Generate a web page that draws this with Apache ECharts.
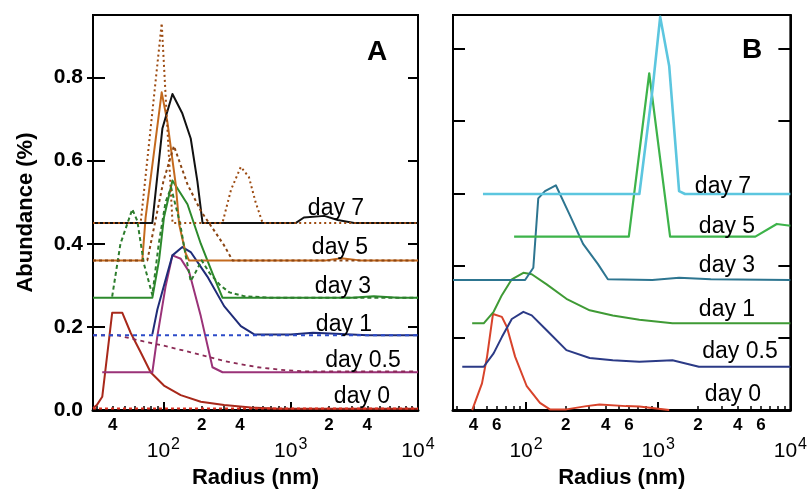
<!DOCTYPE html>
<html><head><meta charset="utf-8">
<script src="https://cdn.jsdelivr.net/npm/echarts@6/dist/echarts.min.js"></script>
<style>html,body{margin:0;padding:0;background:#fff}#c{width:810px;height:494px}</style>
</head><body><div id="c"></div>
<script>
const FONT = '"Liberation Sans", Arial, Helvetica, sans-serif';
const xMin = 28, xMax = 10000;
const yMaxA = 0.95, yMaxB = 5.466;
const yTicksA = [0, 0.2, 0.4, 0.6, 0.8];
const yTicksB = [1, 2, 3, 4, 5];
const minorTicks = [30,40,50,60,70,80,90,200,300,400,500,600,700,800,900,2000,3000,4000,5000,6000,7000,8000,9000];
const majorTicks = [100, 1000, 10000];
const minorLabelsA = [40, 200, 400, 2000, 4000];
const minorLabelsB = [40, 60, 200, 400, 600, 2000, 4000, 6000];
const dayNames = ['day 7', 'day 5', 'day 3', 'day 1', 'day 0.5', 'day 0'];

// Panel A (radius nm, abundance %)
const a7  = [[28,0.45],[81.9,0.45],[98.2,0.677],[117.8,0.76],[141,0.713],[164,0.653],[185,0.55],[203,0.45],[1100,0.45],[1270,0.463],[1840,0.467],[2340,0.457],[3150,0.45],[10000,0.45]];
const a7d = [[28,0.45],[66.3,0.45],[97,0.93],[118,0.45],[291,0.45],[340,0.53],[406,0.585],[470,0.56],[530,0.5],[602,0.45],[10000,0.45]];
const a5  = [[28,0.36],[68.3,0.36],[72.5,0.463],[97,0.764],[107.5,0.693],[125,0.543],[133,0.447],[141,0.412],[150,0.376],[159,0.36],[1900,0.36],[2500,0.365],[3500,0.36],[10000,0.36]];
const a5d = [[28,0.36],[74.8,0.36],[100,0.55],[121,0.635],[154.6,0.543],[196.7,0.479],[250,0.432],[300,0.396],[349,0.36],[10000,0.36]];
const a3  = [[28,0.27],[81.9,0.27],[92.4,0.36],[101,0.463],[117.8,0.552],[154.6,0.495],[196.7,0.40],[243,0.329],[291.6,0.27],[3000,0.27],[4500,0.274],[7000,0.27],[10000,0.27]];
const a3d = [[39.6,0.273],[46,0.40],[57,0.483],[62.4,0.455],[70.3,0.352],[81.9,0.277],[92,0.40],[104,0.50],[115,0.535],[135,0.45],[150,0.37],[164,0.31],[178,0.33],[200,0.36],[230,0.33],[280,0.30],[330,0.283],[430,0.274],[700,0.27],[10000,0.27]];
const a1  = [[81.9,0.182],[89.7,0.242],[107.5,0.329],[117.8,0.372],[141,0.392],[164,0.38],[221.6,0.321],[300,0.25],[406,0.202],[517,0.182],[1000,0.182],[1500,0.186],[2500,0.183],[4000,0.18],[10000,0.18]];
const a1d = [[28,0.18],[10000,0.18]];
const a05 = [[33.1,0.091],[81.9,0.091],[89.7,0.178],[104,0.297],[117.8,0.372],[137,0.364],[159,0.333],[196.7,0.226],[243,0.103],[291.6,0.091],[10000,0.091]];
const a05d= [[28,0.18],[43.4,0.18],[70,0.165],[100,0.155],[164,0.139],[300,0.118],[550,0.103],[900,0.096],[1280,0.093],[10000,0.093]];
const a0  = [[28,0.005],[30,0.012],[33.1,0.032],[39.6,0.234],[47.6,0.234],[55.3,0.186],[66.3,0.139],[79.4,0.091],[101,0.059],[136.8,0.036],[196.7,0.02],[300,0.012],[487,0.006],[800,0.003],[10000,0.003]];
const a0d = [[28,0.004],[10000,0.004]];

// Panel B (radius nm, arbitrary stacked units)
const b7  = [[47.2,2.99],[720,2.99],[906,4.44],[1035,5.44],[1211,4.76],[1439,3.03],[1596,2.99],[10000,2.99]];
const b5  = [[81.2,2.40],[599,2.40],[855,4.66],[1230,2.40],[5430,2.40],[7890,2.575],[10000,2.55]];
const b3  = [[28,1.80],[98.3,1.80],[113.5,1.97],[123.7,2.93],[139,3.03],[168,3.11],[214,2.70],[270,2.30],[350,2.02],[416,1.81],[902,1.80],[1439,1.83],[2500,1.81],[10000,1.80]];
const b1  = [[39.1,1.20],[47.8,1.20],[56.8,1.36],[65.6,1.59],[78,1.81],[95.4,1.90],[110.4,1.88],[143.2,1.74],[202,1.54],[303,1.38],[453,1.31],[720,1.25],[1282,1.20],[10000,1.20]];
const b05 = [[32.9,0.60],[47.8,0.60],[56.8,0.785],[65.6,1.01],[78,1.26],[95.4,1.36],[110.4,1.31],[143.2,1.105],[202,0.83],[303,0.72],[453,0.69],[720,0.67],[1282,0.69],[2032,0.60],[10000,0.60]];
const b0  = [[39.1,0],[46.4,0.37],[50.7,0.74],[56.2,1.33],[65.6,1.29],[71.6,1.15],[82.6,0.74],[101.2,0.33],[127.4,0.10],[151.5,0.01],[202,0.01],[286,0.055],[359.6,0.078],[571,0.055],[720,0.05],[1211,0.0]];

const lg = v => Math.log10(v);
const chart = echarts.init(document.getElementById('c'), null, {renderer: 'canvas'});

function minorAxis(grid, labels) {
  return {
    type: 'value', gridIndex: grid, min: lg(xMin), max: lg(xMax), position: 'bottom',
    axisLine: {show: true, lineStyle: {color: '#000', width: 3}},
    axisTick: {show: true, inside: true, length: 4, customValues: minorTicks.map(lg), lineStyle: {color: '#000', width: 1.5}},
    axisLabel: {show: true, customValues: labels.map(lg), margin: 7,
      formatter: v => String(Math.round(Math.pow(10, v))).charAt(0),
      fontFamily: FONT, fontSize: 17, fontWeight: 'bold', color: '#000'},
    splitLine: {show: false}
  };
}
function majorAxis(grid) {
  return {
    type: 'value', gridIndex: grid, min: lg(xMin), max: lg(xMax), position: 'bottom',
    axisLine: {show: false},
    axisTick: {show: true, inside: true, length: 8, customValues: majorTicks.map(lg), lineStyle: {color: '#000', width: 2}},
    axisLabel: {show: true, customValues: majorTicks.map(lg), margin: 26,
      formatter: v => '{b|10}{s|' + Math.round(v) + '}',
      rich: {
        b: {fontFamily: FONT, fontSize: 21, color: '#000', lineHeight: 26, verticalAlign: 'bottom'},
        s: {fontFamily: FONT, fontSize: 16, color: '#000', lineHeight: 16, verticalAlign: 'top', padding: [0,0,0,1]}
      }},
    splitLine: {show: false},
    name: 'Radius (nm)', nameLocation: 'middle', nameGap: 56,
    nameTextStyle: {fontFamily: FONT, fontSize: 22, fontWeight: 'bold', color: '#000'}
  };
}
function yAx(grid, pos, max, ticks, opts) {
  return Object.assign({
    type: 'value', gridIndex: grid, min: 0, max: max, position: pos,
    axisLine: {show: true, lineStyle: {color: '#000', width: 2}},
    axisTick: {show: true, inside: true, length: 12, customValues: ticks, lineStyle: {color: '#000', width: 2}},
    axisLabel: {show: false},
    splitLine: {show: false}
  }, opts || {});
}

function line(data, xi, yi, color, width, dash, z) {
  return {
    type: 'line', data: data, xAxisIndex: xi, yAxisIndex: yi, showSymbol: false, symbol: 'none',
    animation: false, clip: true, z: z || 2,
    lineStyle: {color: color, width: width, type: dash || 'solid', cap: 'butt', join: 'round'}
  };
}

const texts = [];
function txt(s, x, y, size, bold) {
  texts.push({type: 'text', x: x, y: y, z: 10,
    style: {text: s, fill: '#000', font: (bold ? 'bold ' : '') + size + 'px ' + FONT, textAlign: 'center', textVerticalAlign: 'middle'}});
}
const dayPosA = [[336,209],[340,248],[343,287],[344,325],[363,361],[362,397]];
const dayPosB = [[723,187],[727,227],[727,266],[727,310],[740,352],[733,395]];
dayNames.forEach((n, i) => { txt(n, dayPosA[i][0], dayPosA[i][1], 23, false); txt(n, dayPosB[i][0], dayPosB[i][1], 23, false); });
txt('A', 377, 52, 28, true);
txt('B', 752, 50, 28, true);

const option = {
  backgroundColor: '#fff',
  animation: false,
  grid: [
    {left: 93, top: 15, width: 325, height: 400, show: true, borderColor: '#000', borderWidth: 2, backgroundColor: 'transparent'},
    {left: 453, top: 15, width: 340, height: 399, show: true, borderColor: '#000', borderWidth: 2, backgroundColor: 'transparent'}
  ],
  xAxis: [
    {type: 'log', logBase: 10, gridIndex: 0, min: xMin, max: xMax, show: false},
    minorAxis(0, minorLabelsA),
    majorAxis(0),
    {type: 'log', logBase: 10, gridIndex: 1, min: xMin, max: xMax, show: false},
    minorAxis(1, minorLabelsB),
    majorAxis(1)
  ],
  yAxis: [
    yAx(0, 'left', yMaxA, yTicksA, {
      axisLabel: {show: true, customValues: yTicksA, formatter: v => v.toFixed(1), margin: 10,
        fontFamily: FONT, fontSize: 21, fontWeight: 'bold', color: '#000'},
      name: 'Abundance (%)', nameLocation: 'middle', nameGap: 56,
      nameTextStyle: {fontFamily: FONT, fontSize: 22, fontWeight: 'bold', color: '#000'}
    }),
    yAx(0, 'right', yMaxA, yTicksA.slice(1), {axisTick: {show: true, inside: true, length: 10, customValues: yTicksA.slice(1), lineStyle: {color: '#000', width: 2}}}),
    yAx(0, 'left', yMaxA, yTicksA.slice(1), {axisLine: {show: false}, axisTick: {show: true, inside: false, length: 6, customValues: yTicksA.slice(1), lineStyle: {color: '#000', width: 2}}}),
    yAx(1, 'left', yMaxB, yTicksB),
    yAx(1, 'right', yMaxB, yTicksB)
  ],
  series: [
    line(a0,  0, 0, '#a8281a', 2),
    line(a05, 0, 0, '#9a3278', 2),
    line(a1,  0, 0, '#1f2c78', 2),
    line(a3,  0, 0, '#2c8a2c', 2),
    line(a5,  0, 0, '#c46a1e', 2),
    line(a7,  0, 0, '#111111', 2),
    line(a0d, 0, 0, '#e03020', 2, [3, 3], 3),
    line(a05d,0, 0, '#8b2a55', 1.8, [4, 4], 3),
    line(a1d, 0, 0, '#2c4bc8', 1.8, [4, 4], 3),
    line(a3d, 0, 0, '#2d7d2d', 2, [4, 3], 3),
    line(a5d, 0, 0, '#8b4513', 2, [3, 3], 3),
    line(a7d, 0, 0, '#9c4a10', 2, [2, 3], 3),
    line(b0,  3, 3, '#d8432b', 2),
    line(b05, 3, 3, '#2b3a86', 2),
    line(b1,  3, 3, '#3f9a35', 2),
    line(b3,  3, 3, '#2d7590', 2),
    line(b5,  3, 3, '#3db34a', 2.2),
    line(b7,  3, 3, '#5cc6df', 2.6)
  ],
  graphic: texts
};
chart.setOption(option);
</script>
</body></html>
